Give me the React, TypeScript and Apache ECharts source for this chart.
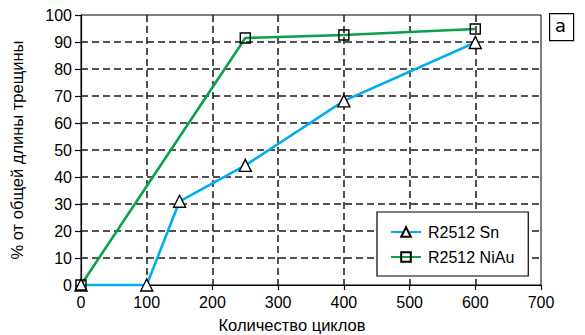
import React, { useEffect, useRef } from "react";
import * as echarts from "echarts";

const snX = [0, 100, 150, 250, 400, 600];
const snY = [0, 0, 31, 44.3, 68.2, 89.8];
const niauX = [0, 250, 400, 600];
const niauY = [0, 91.5, 92.6, 94.8];
const seriesNames = ["R2512 Sn", "R2512 NiAu"];
const xTitle = "Количество циклов";
const yTitle = "% от общей длины трещины";
const panelLabel = "а";

export default function App() {
  const ref = useRef<HTMLDivElement>(null);
  useEffect(() => {
    const chart = echarts.init(ref.current!, null, { renderer: "svg" });
    const font = "'Liberation Sans', Arial, sans-serif";
    const dashed = { show: true, showMinLine: false, showMaxLine: false, lineStyle: { color: "#1a1a1a", type: [7, 4], width: 1.5 } };
    chart.setOption({
      animation: false,
      textStyle: { fontFamily: font },
      grid: { left: 78, right: 44, top: 15, bottom: 50, show: true, borderColor: "#000", borderWidth: 1, backgroundColor: "transparent" },
      xAxis: {
        type: "value", min: 0, max: 700, interval: 100,
        axisLine: { show: true, lineStyle: { color: "#000", width: 1.2 } },
        axisTick: { show: true, length: 5, lineStyle: { color: "#000", width: 1.2 } },
        axisLabel: { fontSize: 16, color: "#000", margin: 9, fontFamily: font },
        splitLine: dashed,
      },
      yAxis: {
        type: "value", min: 0, max: 100, interval: 10,
        name: yTitle, nameLocation: "middle", nameGap: 56,
        nameTextStyle: { fontSize: 16.5, color: "#000", fontFamily: font },
        axisLine: { show: true, lineStyle: { color: "#000", width: 1.2 } },
        axisTick: { show: true, length: 6, lineStyle: { color: "#000", width: 1.2 } },
        axisLabel: { fontSize: 16, color: "#000", margin: 9, fontFamily: font },
        splitLine: dashed,
      },
      legend: {
        orient: "vertical", left: 377, top: 212,
        padding: [12, 14, 11, 13], itemGap: 9,
        backgroundColor: "#fff", borderColor: "#000", borderWidth: 1.2,
        itemWidth: 30, itemHeight: 12,
        textStyle: { fontSize: 16, color: "#000", fontFamily: font, padding: [0, 0, 0, 2] },
        data: seriesNames,
      },
      series: [
        {
          name: seriesNames[0], type: "line", clip: false,
          data: snX.map((x, i) => [x, snY[i]]),
          lineStyle: { color: "#00AEEF", width: 2.6 },
          itemStyle: { color: "#fff", borderColor: "#000", borderWidth: 1.4 },
          symbol: "triangle", symbolSize: 12, showAllSymbol: true, z: 3,
        },
        {
          name: seriesNames[1], type: "line", clip: false,
          data: niauX.map((x, i) => [x, niauY[i]]),
          lineStyle: { color: "#0BA14B", width: 2.6 },
          itemStyle: { color: "rgba(255,255,255,0)", borderColor: "#000", borderWidth: 1.4 },
          symbol: "rect", symbolSize: 10, showAllSymbol: true, z: 3,
        },
      ],
      graphic: [
        { type: "text", x: 292, y: 325, style: { text: xTitle, font: "16.5px 'Liberation Sans', sans-serif", fill: "#000", textAlign: "center", textVerticalAlign: "middle" } },
        { type: "rect", left: 549, top: 13, shape: { width: 24, height: 27 }, style: { fill: "#fff", stroke: "#000", lineWidth: 1.2 } },
        { type: "text", left: 555, top: 16, style: { text: panelLabel, font: "18px 'DejaVu Sans', sans-serif", fill: "#000" } },
      ],
    });
    return () => chart.dispose();
  }, []);
  return <div ref={ref} style={{ width: 585, height: 335, position: "absolute", left: 0, top: 0 }} />;
}
